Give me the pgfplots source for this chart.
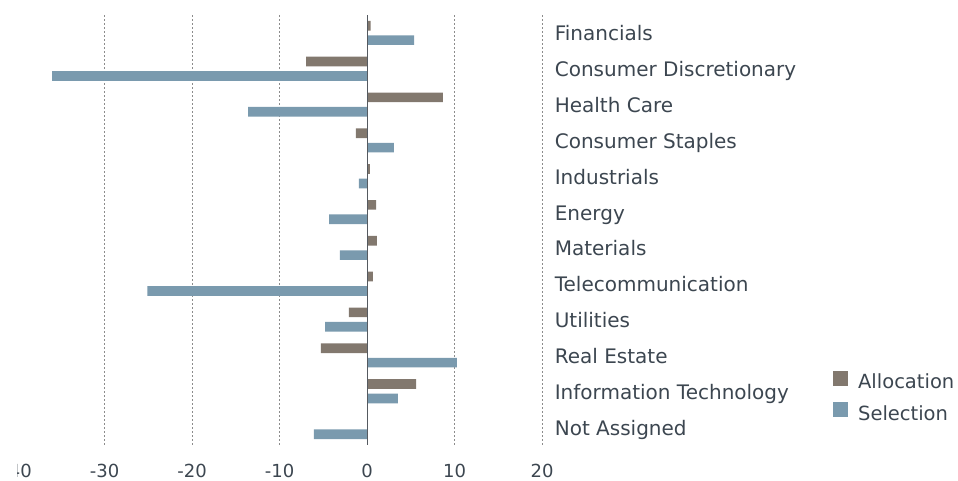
\documentclass[border=0pt]{standalone}
\usepackage{pgfplots}
\pgfplotsset{compat=1.18}
\usepackage{fontspec}
\setmainfont{DejaVu Sans}
\definecolor{alloc}{HTML}{82786E}
\definecolor{sel}{HTML}{7A9AAE}
\definecolor{txt}{HTML}{3C4650}
\definecolor{gridc}{HTML}{8C8C8C}
\definecolor{zeroc}{HTML}{555A60}
\begin{document}
\begin{tikzpicture}
\begin{axis}[
  at={(17.1pt,35pt)}, anchor=south west,
  scale only axis, width=525pt, height=430pt,
  xbar, bar width=9.7pt,
  xmin=-40, xmax=20, ymin=-0.5, ymax=11.5,
  y dir=reverse,
  axis line style={draw=none},
  major tick length=0pt,
  xtick={-40,-30,-20,-10,0,10,20},
  xticklabels={-40,-30,-20,-10,0,10,20},
  xticklabel style={font=\fontsize{18}{20}\selectfont, text=txt, anchor=base, inner sep=0pt, yshift=-32pt},
  extra x ticks={-30,-20,-10,10,20},
  extra x tick labels={},
  extra x tick style={grid=major, major grid style={draw=gridc, line width=1pt, dash pattern=on 1.5pt off 2.5pt}},
  ytick={0,...,11},
  yticklabels={Financials,Consumer Discretionary,Health Care,Consumer Staples,Industrials,Energy,Materials,Telecommunication,Utilities,Real Estate,Information Technology,Not Assigned},
  yticklabel pos=right,
  yticklabel style={font=\fontsize{20}{24}\selectfont, text=txt, anchor=base west, inner sep=0pt, xshift=12.5pt, yshift=-8pt},
  legend style={at={(1.554,0.172)}, anchor=north west, draw=none, fill=none, inner sep=0pt,
    font=\fontsize{19.5}{22}\selectfont, text=txt, row sep=12pt, column sep=10pt,
    nodes={inner sep=0pt}},
  legend cell align=left,
  legend image code/.code={\fill[#1] (0pt,-4pt) rectangle (15pt,11pt);},
]
\addplot[fill=alloc, draw=none, bar shift=7.2pt] coordinates {
(0.40,0) (-6.98,1) (8.67,2) (-1.27,3) (0.33,4) (1.02,5) (1.13,6) (0.67,7) (-2.07,8) (-5.27,9) (5.59,10)};
\addlegendentry{Allocation}
\addplot[fill=sel, draw=none, bar shift=-7.2pt] coordinates {
(5.36,0) (-36.0,1) (-13.6,2) (3.07,3) (-0.93,4) (-4.35,5) (-3.10,6) (-25.1,7) (-4.80,8) (10.27,9) (3.53,10) (-6.07,11)};
\addlegendentry{Selection}
\draw[zeroc, line width=1.1pt] (axis cs:0,-0.5) -- (axis cs:0,11.5);
\end{axis}
\fill[white] (-5pt,-5pt) rectangle (16.7pt,30pt);
\pgfresetboundingbox
\path (0pt,0pt) rectangle (958pt,480pt);
\end{tikzpicture}
\end{document}
